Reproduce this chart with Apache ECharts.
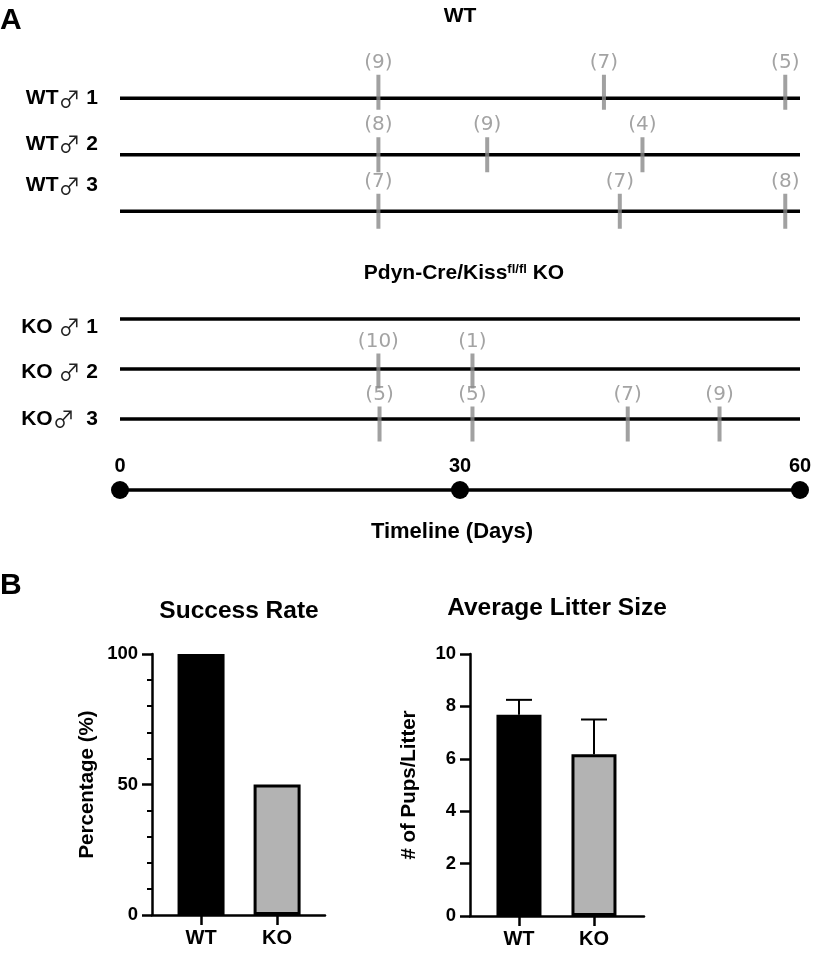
<!DOCTYPE html>
<html>
<head>
<meta charset="utf-8">
<script src="https://cdn.jsdelivr.net/npm/echarts@6/dist/echarts.min.js"></script>
<style>html,body{margin:0;padding:0;background:#fff}#c{width:827px;height:954px}</style>
</head>
<body>
<div id="c"></div>
<script>
// ---------- data ----------
const timelineDays = [0, 30, 60];
const wtRows = ['WT\u2642 1', 'WT\u2642 2', 'WT\u2642 3'];
const koRows = ['KO \u2642 1', 'KO \u2642 2', 'KO\u2642  3'];
const wtLitterDays = [[22.8, 42.7, 58.7], [22.8, 32.4, 46.1], [22.8, 44.1, 58.7]];
const wtLitterSizes = [[9, 7, 5], [8, 9, 4], [7, 7, 8]];
const koLitterDays = [[], [22.8, 31.1], [22.9, 31.1, 44.8, 52.9]];
const koLitterSizes = [[], [10, 1], [5, 5, 7, 9]];
const groups = ['WT', 'KO'];
const successRate = [100, 50];
const litterMean = [7.68, 6.17];
const litterSEM = [0.57, 1.33];

// ---------- styles ----------
const BOLD = 'Liberation Sans, Arial, sans-serif';
const wtLabelShift = [0, -11, -26];
const koLabelShift = [8, 3, 0];
const wtTickShift = [-6, 0, 0];
const koTickShift = [0, 2, 5];
const barStyles = [
  {color: '#000', borderColor: '#000', borderWidth: 3},
  {color: '#b3b3b3', borderColor: '#000', borderWidth: 3}
];

function rowFmt(s) {
  return s.split('\u2642').map(p => '{b|' + p + '}').join('{m|\u2642}');
}
const rowRich = {
  b: {fontFamily: BOLD, fontWeight: 'bold', fontSize: 21, color: '#000'},
  m: {fontFamily: 'Noto Sans CJK SC, DejaVu Sans', fontWeight: 'normal', fontSize: 22, color: '#222'}
};

function rowSeries(rows, axisIdx, shifts) {
  return rows.map((name, i) => ({
    type: 'line', name: name, xAxisIndex: axisIdx, yAxisIndex: axisIdx,
    showSymbol: true, symbol: 'circle', symbolSize: 0, silent: true,
    lineStyle: {color: '#000', width: 3.5}, itemStyle: {color: '#000'},
    label: {show: false, position: 'left', distance: 22, formatter: p => rowFmt(p.seriesName), rich: rowRich},
    data: [{value: [0, i], label: {show: true, offset: [0, shifts[i]]}}, [60, i]],
    z: 2
  }));
}
function tickSeries(days, sizes, axisIdx, shifts) {
  const data = [];
  days.forEach((row, i) => row.forEach((d, j) => {
    data.push({value: [d, i, sizes[i][j]], symbolOffset: [0, shifts[i]]});
  }));
  return {
    type: 'scatter', xAxisIndex: axisIdx, yAxisIndex: axisIdx, silent: true,
    symbol: 'rect', symbolSize: [4, 35], itemStyle: {color: '#8a8a8a'},
    label: {show: true, position: 'top', distance: 2, formatter: p => '(' + p.value[2] + ')',
      color: '#8c8c8c', fontSize: 20, fontFamily: 'DejaVu Sans'},
    data: data, z: 3
  };
}
function errRender(params, api) {
  const x = api.value(0), m = api.value(1), t = api.value(2);
  const p0 = api.coord([x, m]), p1 = api.coord([x, t]);
  const st = {stroke: '#000', lineWidth: 2};
  return {type: 'group', children: [
    {type: 'line', shape: {x1: p0[0], y1: p0[1], x2: p1[0], y2: p1[1]}, style: st},
    {type: 'line', shape: {x1: p1[0] - 13, y1: p1[1], x2: p1[0] + 13, y2: p1[1]}, style: st}
  ]};
}
const hiddenX = i => ({gridIndex: i, type: 'value', min: 0, max: 60, show: false});
const axisLineStyle = {show: true, onZero: false, lineStyle: {color: '#000', width: 2.5}};

const option = {
  animation: false,
  backgroundColor: '#fff',
  title: [
    {text: 'A', left: 0, top: 6, padding: 0, textStyle: {fontFamily: BOLD, fontWeight: 'bold', fontSize: 30, color: '#000'}},
    {text: 'WT', left: 460, top: 6, padding: 0, textAlign: 'center', textStyle: {fontFamily: BOLD, fontWeight: 'bold', fontSize: 21, color: '#000'}},
    {text: '{a|Pdyn-Cre/Kiss}{s|fl/fl}{a| KO}', left: 464, top: 263, padding: 0, textAlign: 'center',
      textStyle: {rich: {
        a: {fontFamily: BOLD, fontWeight: 'bold', fontSize: 21, color: '#000'},
        s: {fontFamily: BOLD, fontWeight: 'bold', fontSize: 13, color: '#000', verticalAlign: 'top'}
      }}},
    {text: 'B', left: 0, top: 571, padding: 0, textStyle: {fontFamily: BOLD, fontWeight: 'bold', fontSize: 30, color: '#000'}},
    {text: 'Success Rate', left: 239, top: 599, padding: 0, textAlign: 'center', textStyle: {fontFamily: BOLD, fontWeight: 'bold', fontSize: 24.5, color: '#000'}},
    {text: 'Average Litter Size', left: 557, top: 596, padding: 0, textAlign: 'center', textStyle: {fontFamily: BOLD, fontWeight: 'bold', fontSize: 24.5, color: '#000'}}
  ],
  grid: [
    {left: 120, right: 27, top: 70, height: 169.5},
    {left: 120, right: 27, top: 294, height: 150},
    {left: 120, right: 27, top: 470, height: 40},
    {left: 152, right: 502, top: 654, bottom: 39},
    {left: 470, right: 183, top: 654, bottom: 38}
  ],
  xAxis: [
    hiddenX(0), hiddenX(1),
    {gridIndex: 2, type: 'value', min: 0, max: 60, name: 'Timeline (Days)', nameLocation: 'middle', nameGap: 11,
      nameTextStyle: {fontFamily: BOLD, fontWeight: 'bold', fontSize: 22, color: '#000', padding: [0, 16, 0, 0]},
      axisLine: {show: false}, axisTick: {show: false}, axisLabel: {show: false}, splitLine: {show: false}},
    {gridIndex: 3, type: 'value', min: -0.645, max: 1.63, axisLine: axisLineStyle,
      axisTick: {show: true, customValues: [0, 1], length: 10, lineStyle: {color: '#000', width: 2.5}},
      axisLabel: {show: true, customValues: [0, 1], formatter: v => groups[Math.round(v)], margin: 13,
        fontFamily: BOLD, fontWeight: 'bold', fontSize: 20, color: '#000'},
      splitLine: {show: false}},
    {gridIndex: 4, type: 'value', min: -0.653, max: 1.667, axisLine: axisLineStyle,
      axisTick: {show: true, customValues: [0, 1], length: 10, lineStyle: {color: '#000', width: 2.5}},
      axisLabel: {show: true, customValues: [0, 1], formatter: v => groups[Math.round(v)], margin: 13,
        fontFamily: BOLD, fontWeight: 'bold', fontSize: 20, color: '#000'},
      splitLine: {show: false}}
  ],
  yAxis: [
    {gridIndex: 0, type: 'category', data: wtRows, inverse: true, show: false},
    {gridIndex: 1, type: 'category', data: koRows, inverse: true, show: false},
    {gridIndex: 2, type: 'category', data: [''], show: false},
    {gridIndex: 3, type: 'value', min: 0, max: 100, interval: 50, axisLine: axisLineStyle,
      axisTick: {show: true, length: 10, lineStyle: {color: '#000', width: 2.5}},
      minorTick: {show: true, splitNumber: 5, length: 5, lineStyle: {color: '#000', width: 2}},
      axisLabel: {margin: 14, fontFamily: BOLD, fontWeight: 'bold', fontSize: 18.5, color: '#000'},
      splitLine: {show: false}, minorSplitLine: {show: false},
      name: 'Percentage (%)', nameLocation: 'middle', nameGap: 54, nameRotate: 90,
      nameTextStyle: {fontFamily: BOLD, fontWeight: 'bold', fontSize: 20.5, color: '#000'}},
    {gridIndex: 4, type: 'value', min: 0, max: 10, interval: 2, axisLine: axisLineStyle,
      axisTick: {show: true, length: 10, lineStyle: {color: '#000', width: 2.5}},
      axisLabel: {margin: 14, fontFamily: BOLD, fontWeight: 'bold', fontSize: 18.5, color: '#000'},
      splitLine: {show: false},
      name: '# of Pups/Litter', nameLocation: 'middle', nameGap: 50, nameRotate: 90,
      nameTextStyle: {fontFamily: BOLD, fontWeight: 'bold', fontSize: 20.5, color: '#000'}}
  ],
  series: [
    ...rowSeries(wtRows, 0, wtLabelShift),
    ...rowSeries(koRows, 1, koLabelShift),
    tickSeries(wtLitterDays, wtLitterSizes, 0, wtTickShift),
    tickSeries(koLitterDays, koLitterSizes, 1, koTickShift),
    {type: 'line', xAxisIndex: 2, yAxisIndex: 2, silent: true,
      symbol: 'circle', symbolSize: 18, itemStyle: {color: '#000'},
      lineStyle: {color: '#000', width: 3.5},
      label: {show: true, position: 'top', distance: 5, formatter: p => String(p.value[0]),
        fontFamily: BOLD, fontWeight: 'bold', fontSize: 20, color: '#000'},
      data: timelineDays.map(d => [d, 0])},
    {type: 'bar', xAxisIndex: 3, yAxisIndex: 3, barWidth: 47, silent: true,
      data: groups.map((g, i) => ({value: [i, successRate[i]], itemStyle: barStyles[i]}))},
    {type: 'bar', xAxisIndex: 4, yAxisIndex: 4, barWidth: 45, silent: true,
      data: groups.map((g, i) => ({value: [i, litterMean[i]], itemStyle: barStyles[i]}))},
    {type: 'custom', xAxisIndex: 4, yAxisIndex: 4, silent: true, renderItem: errRender, z: 5,
      encode: {x: 0, y: 1},
      data: groups.map((g, i) => [i, litterMean[i], litterMean[i] + litterSEM[i]])}
  ]
};
const chart = echarts.init(document.getElementById('c'), null, {renderer: 'canvas'});
chart.setOption(option);
</script>
</body>
</html>
